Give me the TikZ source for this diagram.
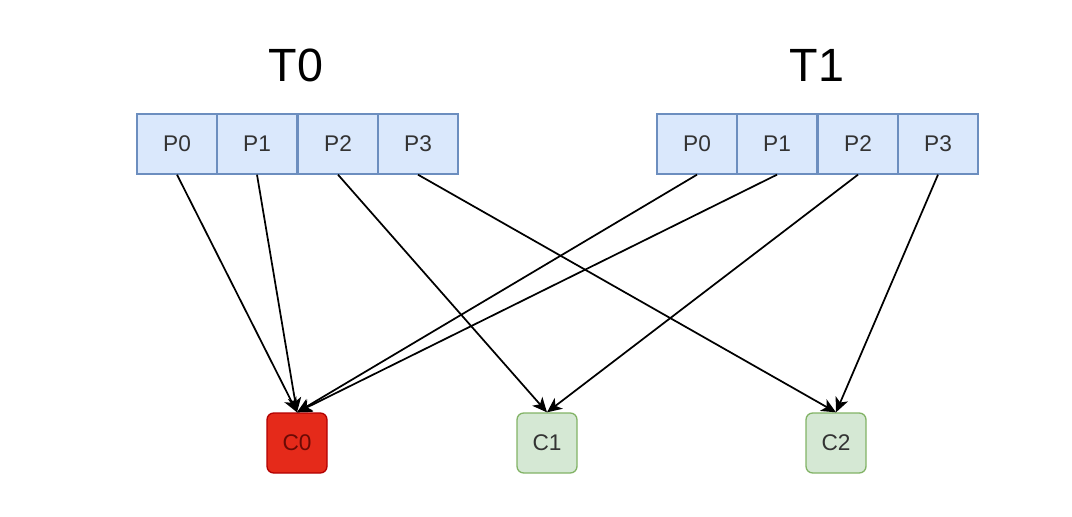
\documentclass[tikz,border=0pt]{standalone}
\usepackage{fontspec}
\setmainfont{Liberation Sans}
\usetikzlibrary{arrows.meta}
\definecolor{pfill}{HTML}{DAE8FC}
\definecolor{pdraw}{HTML}{6C8EBF}
\definecolor{gfill}{HTML}{D5E8D4}
\definecolor{gdraw}{HTML}{82B366}
\definecolor{rfill}{HTML}{E52A1A}
\definecolor{rdraw}{HTML}{B20000}
\definecolor{rtext}{HTML}{6A0A05}
\definecolor{ptext}{HTML}{333333}
\begin{document}
\begin{tikzpicture}[x=0.75pt,y=-0.75pt,
  pbox/.style={draw=pdraw,fill=pfill,line width=1pt,minimum width=60pt,minimum height=45pt,inner sep=0pt,font=\fontsize{17}{19}\selectfont,text=ptext},
  cbox/.style={draw=gdraw,fill=gfill,line width=1pt,rounded corners=5pt,minimum width=45pt,minimum height=45pt,inner sep=0pt,font=\fontsize{17}{19}\selectfont,text=ptext},
  redbox/.style={cbox,draw=rdraw,fill=rfill,text=rtext},
  title/.style={font=\fontsize{35}{40}\selectfont,inner sep=0pt},
  conn/.style={-{Stealth[length=11pt,width=10pt,inset=3pt]},line width=1.3pt,black}]
\useasboundingbox (0,0) rectangle (1072,517);
\node[title] (t0) at (296,65) {T0};
\node[title] (t1) at (817,65) {T1};
\foreach \i/\x in {0/177,1/257,2/338,3/418}{
  \node[pbox] (a\i) at (\x,144) {P\i};
}
\foreach \i/\x in {0/697,1/777,2/858,3/938}{
  \node[pbox] (b\i) at (\x,144) {P\i};
}
\node[redbox] (c0) at (297,443) {C0};
\node[cbox] (c1) at (547,443) {C1};
\node[cbox] (c2) at (836,443) {C2};
\draw[conn] (a0.south) -- (c0.north);
\draw[conn] (a1.south) -- (c0.north);
\draw[conn] (a2.south) -- (c1.north);
\draw[conn] (a3.south) -- (c2.north);
\draw[conn] (b0.south) -- (c0.north);
\draw[conn] (b1.south) -- (c0.north);
\draw[conn] (b2.south) -- (c1.north);
\draw[conn] (b3.south) -- (c2.north);
\end{tikzpicture}
\end{document}
